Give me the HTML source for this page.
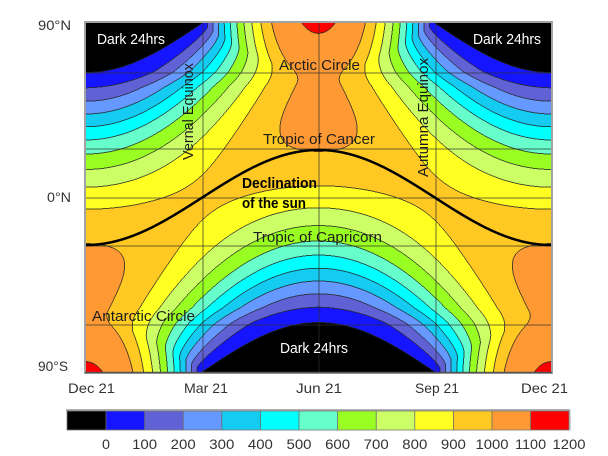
<!DOCTYPE html>
<html>
<head>
<meta charset="utf-8">
<style>
  html,body{margin:0;padding:0;background:#fff;}
  body{width:608px;height:456px;position:relative;overflow:hidden;}
  #plotbg{position:absolute;left:86px;top:23px;width:465px;height:349px;background:#ffc822;}
  #c{position:absolute;left:86px;top:23px;width:465px;height:349px;}
  #ov{position:absolute;left:0;top:0;}
</style>
</head>
<body>
<div id="plotbg"></div>
<canvas id="c" width="930" height="698"></canvas>
<svg id="ov" width="608" height="456" xmlns="http://www.w3.org/2000/svg">
  <!-- plot frame -->
  <rect x="85" y="22" width="467" height="351" fill="none" stroke="#a2a2a2" stroke-width="2"/>
  <line x1="85" y1="372.5" x2="552" y2="372.5" stroke="#555" stroke-width="1.5"/>

  <!-- colorbar -->
  <rect x="66" y="409" width="504" height="2" fill="#b0b0b0"/>
  <rect x="67" y="411" width="39" height="19" fill="#000"/>
  <rect x="106" y="411" width="38.6" height="19" fill="#1515ff"/>
  <rect x="144.6" y="411" width="38.6" height="19" fill="#6161d6"/>
  <rect x="183.2" y="411" width="38.6" height="19" fill="#6699ff"/>
  <rect x="221.8" y="411" width="38.6" height="19" fill="#14ccf2"/>
  <rect x="260.4" y="411" width="38.6" height="19" fill="#00ffff"/>
  <rect x="299" y="411" width="38.6" height="19" fill="#66ffcc"/>
  <rect x="337.6" y="411" width="38.6" height="19" fill="#99ff22"/>
  <rect x="376.2" y="411" width="38.6" height="19" fill="#ccff66"/>
  <rect x="414.8" y="411" width="38.6" height="19" fill="#ffff22"/>
  <rect x="453.4" y="411" width="38.6" height="19" fill="#ffc822"/>
  <rect x="492" y="411" width="38.6" height="19" fill="#ff9933"/>
  <rect x="530.6" y="411" width="38.4" height="19" fill="#ff0000"/>
  <g stroke="#6a6a6a" stroke-width="0.8">
    <line x1="106" y1="411" x2="106" y2="430"/>
    <line x1="144.6" y1="411" x2="144.6" y2="430"/>
    <line x1="183.2" y1="411" x2="183.2" y2="430"/>
    <line x1="221.8" y1="411" x2="221.8" y2="430"/>
    <line x1="260.4" y1="411" x2="260.4" y2="430"/>
    <line x1="299" y1="411" x2="299" y2="430"/>
    <line x1="337.6" y1="411" x2="337.6" y2="430"/>
    <line x1="376.2" y1="411" x2="376.2" y2="430"/>
    <line x1="414.8" y1="411" x2="414.8" y2="430"/>
    <line x1="453.4" y1="411" x2="453.4" y2="430"/>
    <line x1="492" y1="411" x2="492" y2="430"/>
    <line x1="530.6" y1="411" x2="530.6" y2="430"/>
  </g>
  <rect x="67" y="411" width="502" height="19" fill="none" stroke="#777" stroke-width="0.8"/>
  <rect x="569" y="410" width="1.5" height="20" fill="#aaa"/>

  <!-- colorbar labels -->
  <g font-family="Liberation Sans, sans-serif" font-size="14" fill="#333" text-anchor="middle">
    <text x="106" y="449" textLength="8" lengthAdjust="spacingAndGlyphs">0</text>
    <text x="144.6" y="449" textLength="25" lengthAdjust="spacingAndGlyphs">100</text>
    <text x="183.2" y="449" textLength="25" lengthAdjust="spacingAndGlyphs">200</text>
    <text x="221.8" y="449" textLength="25" lengthAdjust="spacingAndGlyphs">300</text>
    <text x="260.4" y="449" textLength="25" lengthAdjust="spacingAndGlyphs">400</text>
    <text x="299" y="449" textLength="25" lengthAdjust="spacingAndGlyphs">500</text>
    <text x="337.6" y="449" textLength="25" lengthAdjust="spacingAndGlyphs">600</text>
    <text x="376.2" y="449" textLength="25" lengthAdjust="spacingAndGlyphs">700</text>
    <text x="414.8" y="449" textLength="25" lengthAdjust="spacingAndGlyphs">800</text>
    <text x="453.4" y="449" textLength="25" lengthAdjust="spacingAndGlyphs">900</text>
    <text x="492" y="449" textLength="33" lengthAdjust="spacingAndGlyphs">1000</text>
    <text x="530.6" y="449" textLength="31" lengthAdjust="spacingAndGlyphs">1100</text>
    <text x="569" y="449" textLength="33" lengthAdjust="spacingAndGlyphs">1200</text>
  </g>

  <!-- axis labels -->
  <g font-family="Liberation Sans, sans-serif" font-size="14" fill="#333">
    <text x="38" y="30" textLength="33" lengthAdjust="spacingAndGlyphs">90°N</text>
    <text x="47" y="202" textLength="24" lengthAdjust="spacingAndGlyphs">0°N</text>
    <text x="38" y="371" textLength="30" lengthAdjust="spacingAndGlyphs">90°S</text>
    <text x="68" y="393" textLength="47" lengthAdjust="spacingAndGlyphs">Dec 21</text>
    <text x="184" y="393" textLength="44" lengthAdjust="spacingAndGlyphs">Mar 21</text>
    <text x="296" y="393" textLength="46" lengthAdjust="spacingAndGlyphs">Jun 21</text>
    <text x="415" y="393" textLength="44" lengthAdjust="spacingAndGlyphs">Sep 21</text>
    <text x="521" y="393" textLength="47" lengthAdjust="spacingAndGlyphs">Dec 21</text>
  </g>

  <!-- in-plot labels -->
  <g font-family="Liberation Sans, sans-serif" font-size="15" fill="#fff">
    <text x="97" y="44" textLength="68" lengthAdjust="spacingAndGlyphs">Dark 24hrs</text>
    <text x="473" y="44" textLength="68" lengthAdjust="spacingAndGlyphs">Dark 24hrs</text>
    <text x="280" y="353" textLength="68" lengthAdjust="spacingAndGlyphs">Dark 24hrs</text>
  </g>
  <g font-family="Liberation Sans, sans-serif" font-size="15" fill="#1e1e1e">
    <text x="279" y="70" textLength="81" lengthAdjust="spacingAndGlyphs">Arctic Circle</text>
    <text x="263" y="144" textLength="112" lengthAdjust="spacingAndGlyphs">Tropic of Cancer</text>
    <text x="253" y="242" textLength="129" lengthAdjust="spacingAndGlyphs">Tropic of Capricorn</text>
    <text x="92" y="321" textLength="103" lengthAdjust="spacingAndGlyphs">Antarctic Circle</text>
    <text transform="translate(193,160) rotate(-90)" x="0" y="0" textLength="97" lengthAdjust="spacingAndGlyphs">Vernal Equinox</text>
    <text transform="translate(428,177) rotate(-90)" x="0" y="0" textLength="119" lengthAdjust="spacingAndGlyphs">Autumna Equinox</text>
  </g>
  <g font-family="Liberation Sans, sans-serif" font-size="15" font-weight="bold" fill="#000">
    <text x="242" y="188" textLength="75" lengthAdjust="spacingAndGlyphs">Declination</text>
    <text x="242" y="208" textLength="64" lengthAdjust="spacingAndGlyphs">of the sun</text>
  </g>
</svg>

<script>
(function(){
  var c = document.getElementById('c');
  var ctx = c.getContext('2d');
  var W = 930, H = 698;
  var img = ctx.createImageData(W, H);
  var d = img.data;
  var cols = [
    [0,0,0],[21,21,255],[97,97,214],[102,153,255],[20,204,242],[0,255,255],
    [102,255,204],[153,255,34],[204,255,102],[255,255,34],[255,200,34],[255,153,51],[255,0,0]
  ];
  var bins = new Int8Array(W*H);
  var R = Math.PI/180;
  var decs = new Float64Array(W);
  for (var i=0;i<W;i++){
    var x = 86 + (i+0.5)/2;
    var a = 2*Math.PI*(x-86)/465;
    decs[i] = -23.44*R*Math.cos(a);
  }
  function latOf(y){
    var lat;
    if (y < 72) lat = 90 - (y-23)*(23.44/49);
    else if (y < 87) lat = 66.56 - (y-72)*(9.56/15);
    else if (y <= 308) lat = (197.5-y)/1.939;
    else if (y <= 323) lat = -57 - (y-308)*(9.56/15);
    else lat = -66.56 - (y-323)*(23.44/49);
    if (lat>89.999) lat=89.999;
    if (lat<-89.999) lat=-89.999;
    return lat;
  }
  for (var j=0;j<H;j++){
    var y = 23 + (j+0.5)/2;
    var lat = latOf(y);
    var phi = lat*R;
    var sp = Math.sin(phi), cp = Math.cos(phi), tp = Math.tan(phi);
    var pl = (Math.abs(lat)-60)/30; if (pl<0) pl=0; if (pl>1) pl=1;
    var boost = 1 + 0.075*Math.pow(pl,1.5);
    for (var i=0;i<W;i++){
      var dec = decs[i];
      var cosH = -tp*Math.tan(dec);
      var h0;
      if (cosH >= 1) h0 = 0;
      else if (cosH <= -1) h0 = Math.PI;
      else h0 = Math.acos(cosH);
      var F = h0*sp*Math.sin(dec) + cp*Math.cos(dec)*Math.sin(h0);
      var Q = (1039.6*F - 123.1*F*F)*boost;
      if (Q > 1000) Q = 1000 + (Q-1000)*0.6;
      var b;
      if (Q <= 0.5) b = 0;
      else { b = 1 + Math.floor(Q/100); if (b>12) b=12; }
      bins[j*W+i] = b;
    }
  }
  for (var j=0;j<H;j++){
    for (var i=0;i<W;i++){
      var k = j*W+i;
      var b = bins[k];
      var col = cols[b];
      var edge = false;
      if (i+1<W && bins[k+1]!==b) edge=true;
      else if (i>0 && bins[k-1]!==b) edge=true;
      else if (j+1<H && bins[k+W]!==b) edge=true;
      else if (j>0 && bins[k-W]!==b) edge=true;
      var r=col[0], g=col[1], bl=col[2];
      if (edge){
        var al = 0.78;
        r = r*(1-al)+35*al; g = g*(1-al)+35*al; bl = bl*(1-al)+35*al;
      }
      var p = k*4;
      d[p]=r; d[p+1]=g; d[p+2]=bl; d[p+3]=255;
    }
  }
  ctx.putImageData(img,0,0);

  // grid lines
  ctx.strokeStyle = 'rgba(45,45,45,0.7)';
  ctx.lineWidth = 2;
  var gx = [203,319,436];
  for (var n=0;n<gx.length;n++){
    var X = (gx[n]-86)*2;
    ctx.beginPath(); ctx.moveTo(X,0); ctx.lineTo(X,H); ctx.stroke();
  }
  var gy = [73,149,198,246,325];
  for (var n=0;n<gy.length;n++){
    var Y = (gy[n]-23)*2;
    ctx.beginPath(); ctx.moveTo(0,Y); ctx.lineTo(W,Y); ctx.stroke();
  }

  // declination of the sun curve
  ctx.strokeStyle = '#000';
  ctx.lineWidth = 5;
  ctx.lineJoin = 'round';
  ctx.beginPath();
  for (var i=0;i<=W;i++){
    var x = 86 + i/2;
    var a = 2*Math.PI*(x-86)/465;
    var yy = 197.5 + 47.5*Math.cos(a);
    var Y = (yy-23)*2;
    if (i===0) ctx.moveTo(i,Y); else ctx.lineTo(i,Y);
  }
  ctx.stroke();
})();
</script>
</body>
</html>
